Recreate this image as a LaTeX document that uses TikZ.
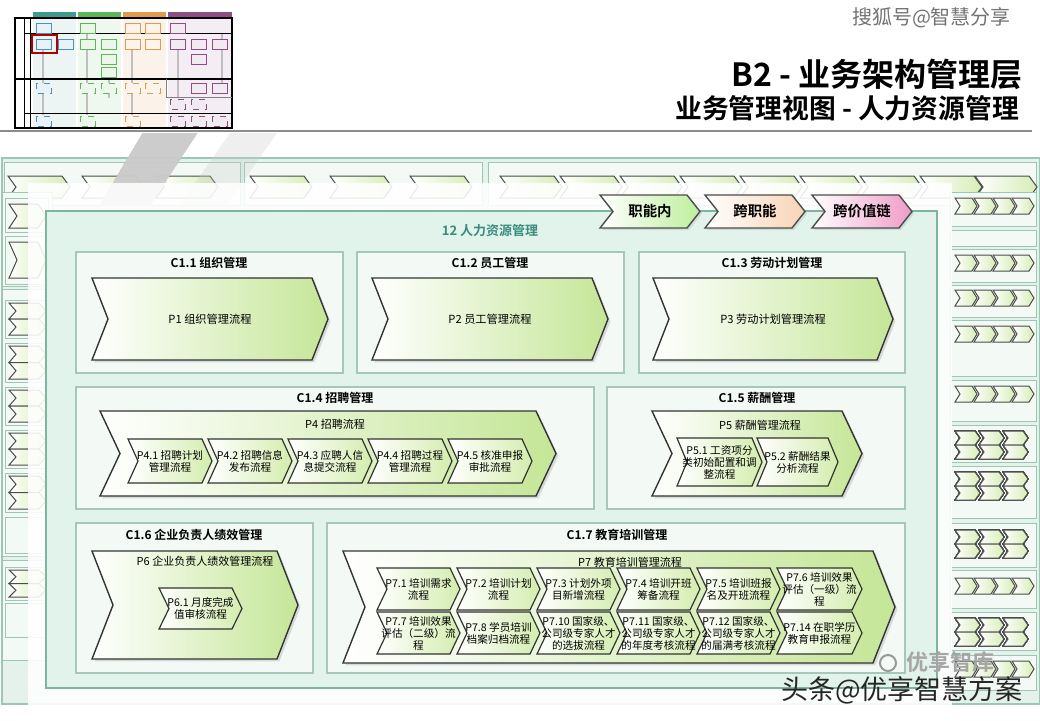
\documentclass[tikz,border=0pt]{standalone}
\usepackage{fontspec}
\setmainfont{Noto Sans CJK SC}[BoldFont={Noto Sans CJK SC Bold}]
\usetikzlibrary{shadows}

\definecolor{pagemint}{HTML}{E4F2EB}
\definecolor{mintline}{HTML}{9CC7B4}
\definecolor{panelfill}{HTML}{E1F3EA}
\definecolor{panelline}{HTML}{7DB5A0}
\definecolor{groupfill}{HTML}{F3FAF6}
\definecolor{groupline}{HTML}{A6C8BA}
\definecolor{chevgreen}{HTML}{C5E697}
\definecolor{subgreen}{HTML}{D3EDAE}
\definecolor{peach}{HTML}{F8D3B4}
\definecolor{pinkish}{HTML}{EE9CC6}
\definecolor{tealtext}{HTML}{3A8C7E}
\definecolor{thteal}{HTML}{3F9B8D}
\definecolor{thgreen}{HTML}{5DB65A}
\definecolor{thorange}{HTML}{E29A4C}
\definecolor{thpurple}{HTML}{8C4E84}
\definecolor{thblue}{HTML}{4A92B8}

\tikzset{
  bigchev/.style={draw=black!80, line width=0.7pt, left color=white, right color=chevgreen,
    drop shadow={opacity=0.25, shadow xshift=1.2pt, shadow yshift=-1.2pt}},
  subchev/.style={draw=black!80, line width=0.6pt, left color=white, right color=subgreen},
  tabchev/.style={draw=black!70, line width=0.7pt, left color=white,
    drop shadow={opacity=0.2, shadow xshift=1pt, shadow yshift=-1pt}},
  bgchevron/.style={draw=black!70, line width=0.5pt, left color=white, right color=chevgreen!70},
  bgbox/.style={draw=mintline, fill=groupfill, line width=0.5pt},
  groupbox/.style={draw=groupline, fill=groupfill, line width=0.6pt},
  grouptitle/.style={font=\fontsize{6}{7}\selectfont\bfseries},
  chevtext/.style={align=center, inner sep=0pt, font=\fontsize{5.3}{6}\selectfont},
  chevlabel/.style={inner sep=0pt, font=\fontsize{5.5}{6.5}\selectfont},
  thdoc/.style={draw=#1, fill=#1!12, line width=0.5pt}
}

% chevron with a named text node: name, x1, y1, x2, y2, depth, style, text
\newcommand{\chev}[8]{%
  \draw[#7] ({#2},{#3}) -- ({#4-#6},{#3}) -- ({#4},{(#3+#5)/2}) -- ({#4-#6},{#5}) -- ({#2},{#5})
    -- ({#2+#6},{(#3+#5)/2}) -- cycle;
  \node[chevtext] (#1) at ({(#2+#4)/2},{(#3+#5)/2}) {#8};}
% plain background chevron
\newcommand{\bgchev}[5]{%
  \draw[bgchevron] ({#1},{#2}) -- ({#3-#5},{#2}) -- ({#3},{(#2+#4)/2}) -- ({#3-#5},{#4}) -- ({#1},{#4})
    -- ({#1+#5},{(#2+#4)/2}) -- cycle;}
\newcommand{\tabfont}{\fontsize{7.2}{8}\selectfont\bfseries}

\begin{document}
\begin{tikzpicture}[x=0.5pt,y=-0.5pt]
\useasboundingbox (0,0) rectangle (1040,720);
\fill[white] (0,0) rectangle (1040,720);

% Thumbnail of the full view
\fill[thteal!10] (33,19) rectangle (76,128);
\fill[thgreen!10] (78,19) rectangle (121,128);
\fill[thorange!12] (123,19) rectangle (166,128);
\fill[thpurple!10] (168,19) rectangle (232,128);
\fill[thteal] (33,12) rectangle (76,19);
\fill[thgreen] (78,12) rectangle (121,19);
\fill[thorange] (123,12) rectangle (166,19);
\fill[thpurple] (168,12) rectangle (232,19);
\foreach \xx/\ya/\yb in {43/50/115, 87/33/115, 109/75/98, 132/50/115, 178/50/98, 222/33/83}
  \draw[black!25, line width=0.8pt] (\xx,\ya) -- (\xx,\yb);
\draw[black, line width=0.6pt] (15,18) rectangle (232,128);
\draw[black, line width=0.5pt] (24,18) -- (24,128) (30,18) -- (30,128);
\draw[black, line width=0.4pt] (24,33) -- (232,33) (24,113) -- (232,113);
\draw[black, line width=0.8pt] (15,79) -- (232,79);
\draw[black!50, line width=0.4pt] (166,79) -- (166,97) -- (232,97);
\foreach \x/\y/\c/\d in {36/23/thblue/solid, 80/23/thgreen/solid, 125/23/thorange/solid,
    145/23/thorange/solid, 170/23/thpurple/solid,
    36/39/thblue/solid, 58/39/thblue/solid, 80/39/thgreen/solid, 101/39/thgreen/solid,
    125/39/thorange/solid, 145/39/thorange/solid, 170/39/thpurple/solid,
    191/39/thpurple/solid, 212/39/thpurple/solid,
    101/54/thgreen/solid, 191/54/thpurple/solid, 101/67/thgreen/solid,
    36/83/thblue/dashed, 80/83/thgreen/dashed, 101/83/thgreen/dashed,
    125/83/thorange/dashed, 145/83/thorange/dashed, 191/83/thpurple/solid, 212/83/thpurple/solid,
    170/99/thpurple/dashed, 191/99/thpurple/dashed,
    36/116/thblue/dashed, 80/116/thgreen/dashed, 125/116/thorange/dashed,
    170/116/thpurple/dashed, 191/116/thpurple/dashed, 212/116/thpurple/dashed}
  \draw[thdoc=\c, \d] (\x,\y) rectangle +(15,10);
\draw[red!70!black, line width=1.3pt] (32,35) rectangle (57,53);

% Titles
\node[anchor=east, text=black!55, font=\fontsize{10}{12}\selectfont] (mark) at (1018,18) {搜狐号@智慧分享};
\node[anchor=east, font=\fontsize{16}{18}\selectfont\bfseries] (title) at (1030,74) {B2 - 业务架构管理层};
\node[anchor=east, font=\fontsize{13.4}{15}\selectfont\bfseries] (subtitle) at (1026,108) {业务管理视图 - 人力资源管理};
\draw[black!45, line width=1.2pt] (0,131) -- (1032,131);

% Background view
\fill[pagemint] (2,158) rectangle (1040,704);
\draw[mintline, line width=0.8pt] (2,158) rectangle (1040,704);
\foreach \xa/\xb in {4/240, 244/482, 488/1036}
  \draw[bgbox] (\xa,162) rectangle (\xb,205);
\foreach \xa in {8,82,156,250,330,410,500,560,620,680,740,800,860,920,975}
  \bgchev{\xa}{176}{\xa+62}{198}{8}
\foreach \ya/\yb in {192/286, 289/556, 560/660}
  \draw[bgbox] (2,\ya) rectangle (52,\yb);
\foreach \ya/\yb in {198/232, 236/284, 517/553, 603/637}
  \draw[bgbox] (5,\ya) rectangle (48,\yb);
\bgchev{9}{204}{46}{228}{8}
\bgchev{9}{242}{46}{278}{8}
\foreach \ya/\yb in {300/338, 343/382, 387/425, 430/468, 473/512, 567/600}{
  \draw[bgbox] (5,\ya) rectangle (48,\yb);
  \bgchev{9}{\ya+3}{46}{(\ya+\yb)/2}{7}
  \bgchev{9}{(\ya+\yb)/2}{46}{\yb-3}{7}}
\foreach \ya/\yb in {192/226, 230/246, 249/282, 285/317, 320/376, 380/421, 425/462,
    466/518, 523/567, 570/608, 612/650, 655/690}
  \draw[bgbox] (950,\ya) rectangle (1036,\yb);
\foreach \ya in {198, 255, 290, 326, 386, 578, 661}
  \foreach \k in {0,1,2,3}
    \bgchev{955+19*\k}{\ya}{977+19*\k}{\ya+16}{5}
\foreach \ya in {431, 472, 530, 618}
  \foreach \k in {0,1,2}{
    \bgchev{955+24*\k}{\ya}{980+24*\k}{\ya+14}{5}
    \bgchev{955+24*\k}{\ya+14}{980+24*\k}{\ya+28}{5}}
\fill[black!20, opacity=0.3] (143,133) -- (197,133) -- (150,205) -- (100,205) -- cycle;
\fill[black!20, opacity=0.3] (230,133) -- (277,133) -- (227,205) -- (180,205) -- cycle;
\fill[white, opacity=0.88] (28,183) rectangle (952,706);

% Main panel
\draw[panelline, fill=panelfill, line width=1.2pt] (46,211) rectangle (937,688);
\node[text=tealtext, font=\fontsize{6.5}{8}\selectfont\bfseries] (hr) at (490,231) {12 人力资源管理};

% Tabs
\chev{tabA}{600}{195}{700}{228}{13}{tabchev, right color=subgreen!90!green}{\tabfont 职能内}
\chev{tabB}{705}{195}{805}{228}{13}{tabchev, right color=peach}{\tabfont 跨职能}
\chev{tabC}{812}{195}{912}{228}{13}{tabchev, right color=pinkish}{\tabfont 跨价值链}

% Group boxes
\draw[groupbox] (76,252) rectangle (343,373);
\draw[groupbox] (357,252) rectangle (624,373);
\draw[groupbox] (639,252) rectangle (905,373);
\draw[groupbox] (76,387) rectangle (594,509);
\draw[groupbox] (607,387) rectangle (905,509);
\draw[groupbox] (76,523) rectangle (313,673);
\draw[groupbox] (327,523) rectangle (905,673);
\node[grouptitle] (c11) at (209,263) {C1.1 组织管理};
\node[grouptitle] (c12) at (490,263) {C1.2 员工管理};
\node[grouptitle] (c13) at (772,263) {C1.3 劳动计划管理};
\node[grouptitle] (c14) at (335,398) {C1.4 招聘管理};
\node[grouptitle] (c15) at (757,398) {C1.5 薪酬管理};
\node[grouptitle] (c16) at (194,535) {C1.6 企业负责人绩效管理};
\node[grouptitle] (c17) at (617,535) {C1.7 教育培训管理};

% Processes
\chev{p1}{92}{278}{328}{360}{16}{bigchev}{\fontsize{5.6}{7}\selectfont P1 组织管理流程}
\chev{p2}{372}{278}{608}{360}{16}{bigchev}{\fontsize{5.6}{7}\selectfont P2 员工管理流程}
\chev{p3}{653}{278}{893}{360}{16}{bigchev}{\fontsize{5.6}{7}\selectfont P3 劳动计划管理流程}

\chev{p4}{100}{411}{556}{496}{20}{bigchev}{}
\node[chevlabel] (p4lbl) at (335,424) {P4 招聘流程};
\chev{p41}{128}{439}{212}{483}{10}{subchev}{P4.1 招聘计划\\管理流程}
\chev{p42}{208}{439}{292}{483}{10}{subchev}{P4.2 招聘信息\\发布流程}
\chev{p43}{288}{439}{372}{483}{10}{subchev}{P4.3 应聘人信\\息提交流程}
\chev{p44}{368}{439}{452}{483}{10}{subchev}{P4.4 招聘过程\\管理流程}
\chev{p45}{448}{439}{532}{483}{10}{subchev}{P4.5 核准申报\\审批流程}

\chev{p5}{652}{411}{862}{496}{20}{bigchev}{}
\node[chevlabel] (p5lbl) at (760,425) {P5 薪酬管理流程};
\chev{p51}{677}{438}{762}{486}{10}{subchev}{P5.1 工资项分\\类初始配置和调\\整流程}
\chev{p52}{757}{438}{838}{486}{10}{subchev}{P5.2 薪酬结果\\分析流程}

\chev{p6}{92}{551}{298}{659}{21}{bigchev}{}
\node[chevlabel] (p6lbl) at (205,561) {P6 企业负责人绩效管理流程};
\chev{p61}{159}{588}{242}{629}{10}{subchev}{P6.1 月度完成\\值审核流程}

\chev{p7}{343}{551}{895}{663}{22}{bigchev}{}
\node[chevlabel] (p7lbl) at (630,562) {P7 教育培训管理流程};
\chev{p71}{377}{568}{460}{610}{10}{subchev}{P7.1 培训需求\\流程}
\chev{p72}{457}{568}{540}{610}{10}{subchev}{P7.2 培训计划\\流程}
\chev{p73}{537}{568}{620}{610}{10}{subchev}{P7.3 计划外项\\目新增流程}
\chev{p74}{617}{568}{700}{610}{10}{subchev}{P7.4 培训开班\\筹备流程}
\chev{p75}{697}{568}{780}{610}{10}{subchev}{P7.5 培训班报\\名及开班流程}
\chev{p76}{777}{568}{862}{610}{10}{subchev}{P7.6 培训效果\\评估（一级）流\\程}
\chev{p77}{377}{612}{460}{654}{10}{subchev}{P7.7 培训效果\\评估（二级）流\\程}
\chev{p78}{457}{612}{540}{654}{10}{subchev}{P7.8 学员培训\\档案归档流程}
\chev{p710}{537}{612}{620}{654}{10}{subchev}{P7.10 国家级、\\公司级专家人才\\的选拔流程}
\chev{p711}{617}{612}{700}{654}{10}{subchev}{P7.11 国家级、\\公司级专家人才\\的年度考核流程}
\chev{p712}{697}{612}{780}{654}{10}{subchev}{P7.12 国家级、\\公司级专家人才\\的届满考核流程}
\chev{p714}{777}{612}{862}{654}{10}{subchev}{P7.14 在职学历\\教育申报流程}

% Watermarks
\draw[black!40, line width=1pt] (888,663) circle (8);
\node[text=black!35, font=\fontsize{11}{13}\selectfont\bfseries] (wm1) at (950,662) {优享智库};
\node[text=black!85, font=\fontsize{13.5}{15}\selectfont] (wm2) at (902,690) {头条@优享智慧方案};

\end{tikzpicture}
\end{document}
